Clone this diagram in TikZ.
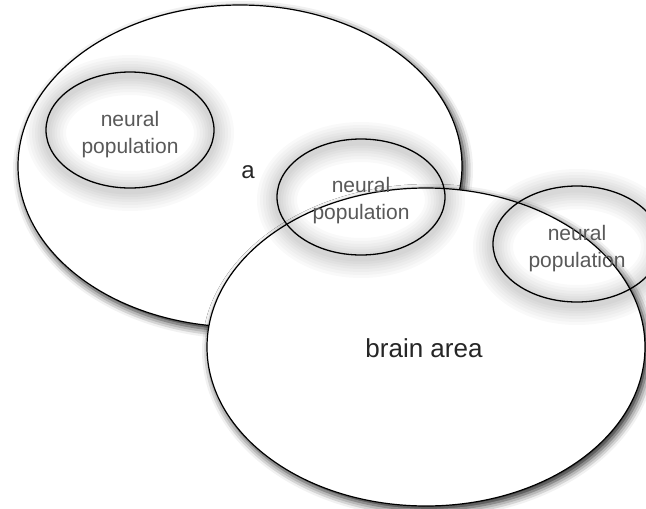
\documentclass[tikz,border=0pt]{standalone}
\usepackage{fontspec}
\setmainfont{Liberation Sans}
\usetikzlibrary{shapes.geometric,shadows.blur}
\begin{document}
\begin{tikzpicture}[x=1pt,y=-1pt,
  big/.style={ellipse, draw=black, line width=1.2pt, fill=white, inner sep=0pt,
    blur shadow={shadow xshift=3pt, shadow yshift=-4pt, shadow blur radius=8pt, shadow opacity=90}},
  pop/.style={ellipse, draw=black, line width=1.3pt, inner sep=0pt,
    minimum width=168pt, minimum height=116pt},
  poptext/.style={inner sep=0pt, align=center,
    font=\fontsize{21}{27}\selectfont, text=black!65},
  lbl/.style={inner sep=0pt, text=black!85}]
\useasboundingbox (0,0) rectangle (646,509);
\clip (0,0) rectangle (646,509);
\newcommand{\popglow}[1]{%
  \foreach \w in {40,34,28,22,17,12,7}{%
    \draw[line width=\w pt, draw opacity=0.022, black] ([yshift=-3pt]#1) ellipse [x radius=84, y radius=58];}}
% coordinates
\coordinate (c1) at (130,130);
\coordinate (c2) at (361,197);
\coordinate (c3) at (577,244);
% top big ellipse
\node[big, minimum width=444pt, minimum height=322pt] (area1) at (240,166) {};
\node[lbl, font=\fontsize{24}{28}\selectfont] (ta) at (248,172) {a};
% population 1
\popglow{c1}
\node[pop] (p1) at (c1) {};
\node[poptext] (t1) at ([yshift=-5pt]p1.center) {neural\\population};
% bottom big ellipse
\node[big, minimum width=438pt, minimum height=318pt] (area2) at (426,347) {};
\node[lbl, font=\fontsize{26}{30}\selectfont] (tb) at (424,348) {brain area};
% populations 2 and 3
\popglow{c2}
\popglow{c3}
\node[pop] (p2) at (c2) {};
\node[poptext] (t2) at ([yshift=-4pt]p2.center) {neural\\population};
\node[pop] (p3) at (c3) {};
\node[poptext] (t3) at ([yshift=-5pt]p3.center) {neural\\population};
\end{tikzpicture}
\end{document}
